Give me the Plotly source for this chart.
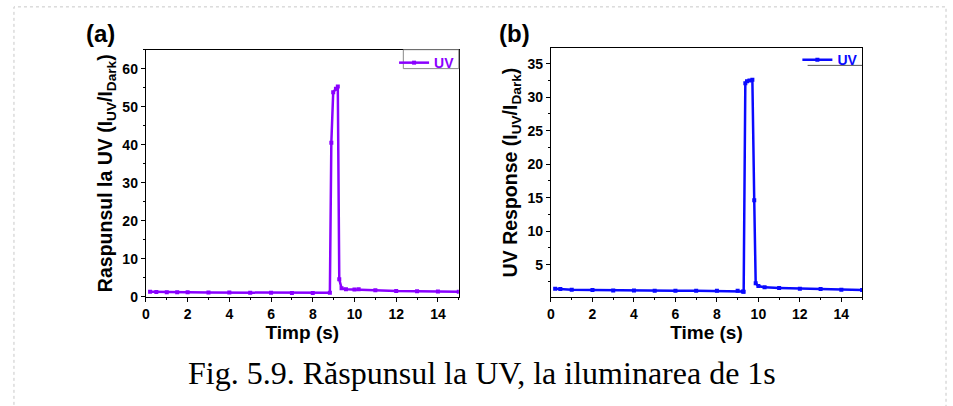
import plotly.graph_objects as go

# ---- data ----
time_a = [0.2, 0.5, 1.0, 1.5, 2.0, 3.0, 4.0, 5.0, 6.0, 7.0, 8.0, 8.82, 8.89, 8.98, 9.11, 9.2,
          9.27, 9.38, 9.59, 10.0, 10.2, 11.0, 12.0, 13.0, 14.0, 15.0]
resp_a = [1.3, 1.25, 1.2, 1.15, 1.15, 1.1, 1.1, 1.05, 1.05, 1.0, 1.0, 1.05, 40.5, 53.8, 54.7, 55.3,
          4.6, 2.2, 2.0, 1.9, 1.95, 1.7, 1.5, 1.45, 1.35, 1.3]

time_b = [0.2, 0.45, 1.0, 2.0, 3.0, 4.0, 5.0, 6.0, 7.0, 8.0, 9.0, 9.25, 9.29, 9.37, 9.45, 9.57,
          9.71, 9.8, 9.87, 10.0, 10.3, 11.0, 12.0, 13.0, 14.0, 15.0]
resp_b = [1.4, 1.35, 1.25, 1.2, 1.15, 1.15, 1.1, 1.1, 1.1, 1.1, 1.1, 1.0, 0.95, 32.1, 32.4, 32.5,
          32.6, 14.6, 2.2, 1.8, 1.6, 1.5, 1.4, 1.35, 1.25, 1.2]

series_name = "UV"
xlabel_a = "Timp (s)"
ylabel_a = "Raspunsul la UV (I<sub>UV</sub>/I<sub>Dark</sub>)"
xlabel_b = "Time (s)"
ylabel_b = "UV Response (I<sub>UV</sub>/I<sub>Dark</sub>)"
caption = "Fig. 5.9. Răspunsul la UV, la iluminarea de 1s"

col_a = "#8a00ff"
col_b = "#0a0aff"

W, H = 953, 406


def px(x):
    return x / W


def py(y):
    return 1 - y / H


fig = go.Figure()
fig.add_trace(go.Scatter(x=time_a, y=resp_a, mode="lines+markers", name=series_name,
                         line=dict(color=col_a, width=2.5), marker=dict(symbol="square", size=4, color=col_a),
                         xaxis="x", yaxis="y", legend="legend"))
fig.add_trace(go.Scatter(x=time_b, y=resp_b, mode="lines+markers", name=series_name,
                         line=dict(color=col_b, width=2.5), marker=dict(symbol="square", size=4, color=col_b),
                         xaxis="x2", yaxis="y2", legend="legend2"))

font = "Arial"
common = dict(showline=True, linecolor="black", linewidth=1.3, mirror=True, ticks="outside",
              ticklen=4, tickwidth=1.2, tickcolor="black", showgrid=False, zeroline=False,
              tickfont=dict(family=font, size=14, color="black", weight="bold"))
minor = dict(ticks="outside", ticklen=2, tickwidth=1, tickcolor="black", showgrid=False)
xt_font = dict(family=font, size=19, color="black")
yt_font = dict(family=font, size=19.5, color="black")

fig.update_layout(
    width=W, height=H, margin=dict(l=0, r=0, t=0, b=0),
    paper_bgcolor="white", plot_bgcolor="white",
    xaxis=dict(domain=[px(142.5), px(456.7)], range=[0, 15], dtick=2, tick0=0,
               minor=dict(dtick=1, **minor), anchor="y",
               title=dict(text="<b>" + xlabel_a + "</b>", font=xt_font, standoff=0),
               **common),
    yaxis=dict(domain=[py(302.7), py(50.7)], range=[0, 65], dtick=10, tick0=0,
               minor=dict(dtick=5, **minor), anchor="x",
               title=dict(text="<b>" + ylabel_a + "</b>", font=yt_font, standoff=4),
               **common),
    xaxis2=dict(domain=[px(549.3), px(861.7)], range=[0, 15], dtick=2, tick0=0,
                minor=dict(dtick=1, **minor), anchor="y2",
                title=dict(text="<b>" + xlabel_b + "</b>", font=xt_font, standoff=0),
                **common),
    yaxis2=dict(domain=[py(302.7), py(49.3)], range=[0.2, 37.3], dtick=5, tick0=0,
                minor=dict(dtick=2.5, tick0=0, **minor), anchor="x2",
                title=dict(text="<b>" + ylabel_b + "</b>", font=yt_font, standoff=4),
                **common),
    legend=dict(x=px(458), y=py(48), xanchor="right", yanchor="top", bgcolor="rgba(0,0,0,0)",
                borderwidth=0, itemwidth=30, tracegroupgap=0,
                font=dict(family=font, size=14, color=col_a, weight="bold")),
    legend2=dict(x=px(863), y=py(45), xanchor="right", yanchor="top", bgcolor="rgba(0,0,0,0)",
                 borderwidth=0, itemwidth=30,
                 font=dict(family=font, size=14, color=col_b, weight="bold")),
    showlegend=True,
)

# panel labels
fig.add_annotation(text="<b>(a)</b>", x=px(97), y=py(34), xref="paper", yref="paper",
                   xanchor="center", yanchor="middle",
                   showarrow=False, font=dict(family=font, size=24, color="black"))
fig.add_annotation(text="<b>(b)</b>", x=px(513), y=py(34), xref="paper", yref="paper",
                   xanchor="center", yanchor="middle",
                   showarrow=False, font=dict(family=font, size=24, color="black"))
# caption
fig.add_annotation(text=caption, x=px(480), y=py(380), xref="paper", yref="paper",
                   xanchor="center", yanchor="middle",
                   showarrow=False, font=dict(family="Liberation Serif", size=32, color="black"))
# page frame (dashed)
fig.add_shape(type="rect", xref="paper", yref="paper", x0=px(10), x1=px(946), y0=py(420), y1=py(7),
              line=dict(color="#c8c8c8", width=1, dash="dot"), layer="below")
# legend box in panel (a)
fig.add_shape(type="rect", xref="paper", yref="paper", x0=px(401), x1=px(456.7), y0=py(70), y1=py(50.7),
              line=dict(color="#888888", width=1))
# legend bottom rule in panel (b)
fig.add_shape(type="line", xref="paper", yref="paper", x0=px(807), x1=px(861.7), y0=py(66.7), y1=py(66.7),
              line=dict(color="#555555", width=1))

fig.write_html("out.html")
